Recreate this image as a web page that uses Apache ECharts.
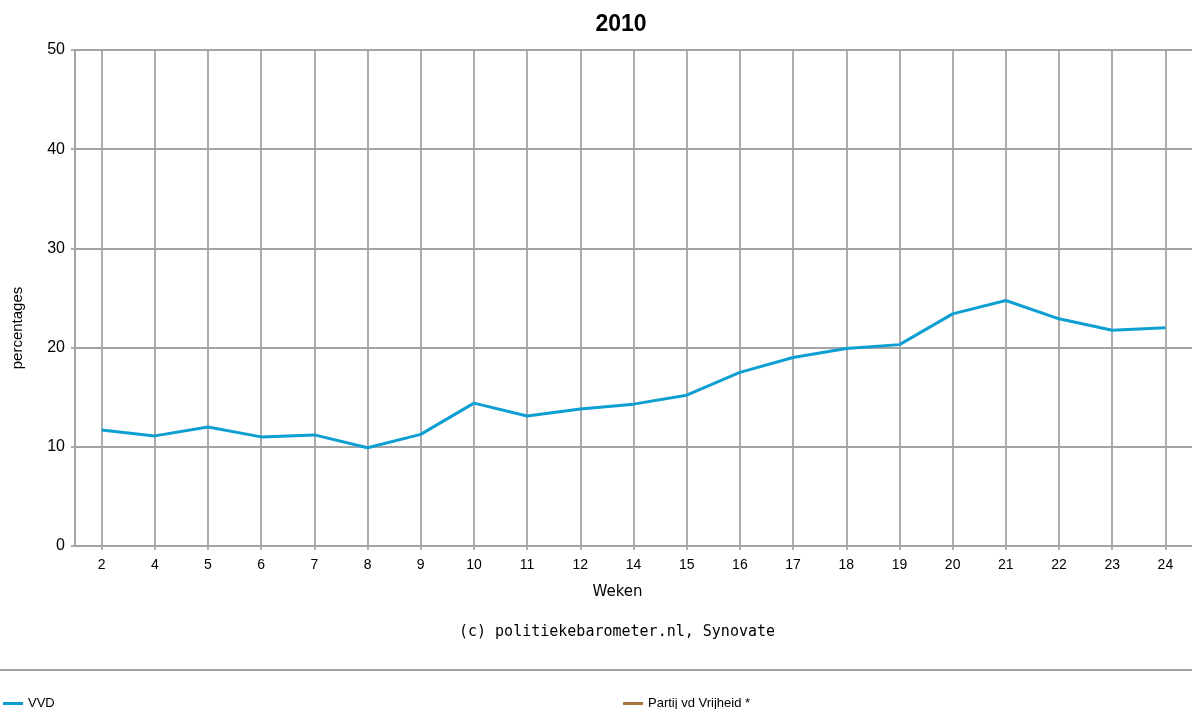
<!DOCTYPE html>
<html>
<head>
<meta charset="utf-8">
<script src="https://cdn.jsdelivr.net/npm/echarts@6/dist/echarts.min.js"></script>
<style>
html,body{margin:0;padding:0;background:#fff;}
#chart{width:1192px;height:709px;}
</style>
</head>
<body>
<div id="chart"></div>
<script>
const titleText = '2010';
const weeks = ['2','4','5','6','7','8','9','10','11','12','14','15','16','17','18','19','20','21','22','23','24'];
const vvd = [11.7,11.1,12.0,11.0,11.2,9.9,11.25,14.4,13.1,13.8,14.3,15.2,17.5,19.0,19.9,20.3,23.4,24.75,22.9,21.75,22.0];
const pvv = [];
const seriesNames = ['VVD', 'Partij vd Vrijheid *'];
const yTicks = {min: 0, max: 50, interval: 10};
const xName = 'Weken';
const yName = 'percentages';
const footer = '(c) politiekebarometer.nl, Synovate';

const gridColor = '#a4a4a4';
const chart = echarts.init(document.getElementById('chart'));
chart.setOption({
  animation: false,
  backgroundColor: '#fff',
  title: {
    text: titleText,
    left: 616,
    top: 8,
    textAlign: 'center',
    textStyle: {fontFamily: 'Liberation Sans', fontWeight: 'bold', fontSize: 23, color: '#000'}
  },
  grid: {left: 75, right: 0, top: 50, bottom: 163, containLabel: false},
  legend: [
    {
      data: [seriesNames[0]], left: 3, top: 697, padding: 0, icon: 'rect', itemWidth: 20, itemHeight: 3,
      textStyle: {fontFamily: 'Liberation Sans', fontSize: 13, color: '#000'}
    },
    {
      data: [seriesNames[1]], left: 623, top: 697, padding: 0, icon: 'rect', itemWidth: 20, itemHeight: 3,
      textStyle: {fontFamily: 'Liberation Sans', fontSize: 13, color: '#000'}
    }
  ],
  xAxis: [
    {
      type: 'category', data: weeks, boundaryGap: true,
      name: xName, nameLocation: 'middle', nameGap: 39,
      nameTextStyle: {fontFamily: 'DejaVu Sans', fontSize: 15, color: '#000', padding: [0, 32, 0, 0]},
      axisLine: {lineStyle: {color: gridColor, width: 2}},
      axisTick: {show: true, alignWithLabel: true, length: 4, lineStyle: {color: gridColor, width: 1.8}},
      axisLabel: {fontFamily: 'Liberation Sans', fontSize: 14, color: '#000', margin: 12},
      splitLine: {show: false}
    },
    {
      type: 'category', data: weeks, boundaryGap: true, position: 'bottom',
      axisLine: {show: false},
      axisTick: {show: true, alignWithLabel: true, inside: true, length: 496, lineStyle: {color: gridColor, width: 1.8}},
      axisLabel: {show: false},
      splitLine: {show: false}
    }
  ],
  yAxis: {
    type: 'value', min: yTicks.min, max: yTicks.max, interval: yTicks.interval,
    name: yName, nameLocation: 'middle', nameGap: 50, nameRotate: 90,
    nameTextStyle: {fontFamily: 'Liberation Sans', fontSize: 15, color: '#000', padding: [0, 60, 0, 0]},
    axisLine: {show: true, lineStyle: {color: gridColor, width: 2}},
    axisTick: {show: true, length: 4, lineStyle: {color: gridColor, width: 1.8}},
    axisLabel: {fontFamily: 'Liberation Sans', fontSize: 16, color: '#000', margin: 10},
    splitLine: {show: true, lineStyle: {color: gridColor, width: 1.8}}
  },
  graphic: [
    {
      type: 'text', x: 617, y: 632,
      style: {text: footer, align: 'center', verticalAlign: 'middle', fontFamily: 'DejaVu Sans Mono', fontSize: 15, fill: '#000'}
    },
    {
      type: 'line', shape: {x1: 0, y1: 670, x2: 1192, y2: 670},
      style: {stroke: '#a0a0a0', lineWidth: 2}
    }
  ],
  series: [
    {
      name: seriesNames[0], type: 'line', data: vvd, xAxisIndex: 0,
      showSymbol: false, symbol: 'none',
      lineStyle: {color: '#0e9fd2', width: 3}, itemStyle: {color: '#0e9fd2'}
    },
    {
      name: seriesNames[1], type: 'line', data: pvv, xAxisIndex: 0,
      showSymbol: false, symbol: 'none',
      lineStyle: {color: '#a6763e', width: 3}, itemStyle: {color: '#a6763e'}
    }
  ]
});
</script>
</body>
</html>
